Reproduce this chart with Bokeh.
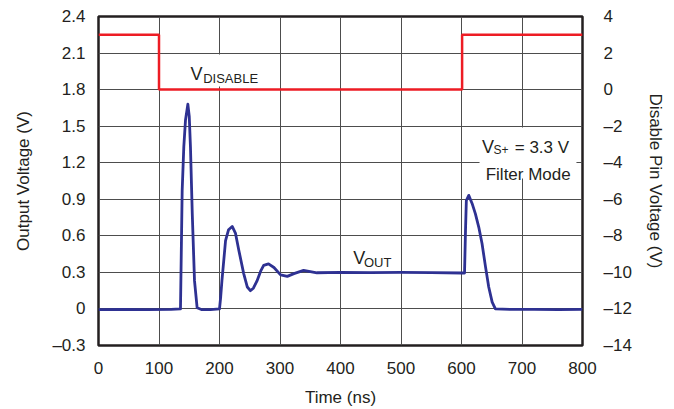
from bokeh.plotting import figure
from bokeh.models import LinearAxis, Range1d, FixedTicker, Label, BoxAnnotation
from bokeh.embed import file_html
from bokeh.resources import INLINE

# ---- data ----
x_ticks = [0, 100, 200, 300, 400, 500, 600, 700, 800]
y_left_ticks = [-0.3, 0, 0.3, 0.6, 0.9, 1.2, 1.5, 1.8, 2.1, 2.4]
y_left_labels = ["–0.3", "0", "0.3", "0.6", "0.9", "1.2", "1.5", "1.8", "2.1", "2.4"]
y_right_ticks = [-14, -12, -10, -8, -6, -4, -2, 0, 2, 4]
y_right_labels = ["–14", "–12", "–10", "–8", "–6", "–4", "–2", "0", "2", "4"]

t_out = [0, 40, 80, 120, 135.5, 138.3, 141, 143.8, 147.7, 150, 152, 155, 158.7, 163,
         170, 185, 200, 202, 204, 210, 215, 221, 226.5, 232, 240, 246, 251, 256, 262,
         268, 273, 281, 290, 301, 312, 323, 339, 361, 400, 450, 500, 550, 600, 605,
         606.6, 608, 612, 617.5, 623, 628.6, 634, 639.7, 645, 650.7, 656, 680, 720,
         760, 800]
v_out = [-0.005, -0.003, -0.006, -0.004, 0.0, 0.97, 1.33, 1.55, 1.68, 1.58, 1.33, 0.78,
         0.23, 0.01, -0.005, -0.005, 0.0, 0.1, 0.23, 0.56, 0.65, 0.677, 0.62, 0.48, 0.29,
         0.18, 0.15, 0.17, 0.23, 0.31, 0.357, 0.37, 0.34, 0.28, 0.267, 0.29, 0.316, 0.297,
         0.30, 0.298, 0.30, 0.298, 0.295, 0.295, 0.64, 0.89, 0.932, 0.866, 0.78, 0.67,
         0.535, 0.345, 0.18, 0.056, 0.0, -0.004, -0.003, -0.005, -0.003]

t_dis = [0, 100, 100, 601, 601, 800]
v_dis = [3.0, 3.0, 0.0, 0.0, 3.0, 3.0]

FONT = "Liberation Sans"
TXT = "#231F20"
BLUE = "#2E3192"
RED = "#ED1C24"

p = figure(width=674, height=409, x_range=Range1d(0, 800), y_range=Range1d(-0.3, 2.4),
           output_backend="svg", toolbar_location=None,
           min_border_left=98, min_border_right=92, min_border_top=16, min_border_bottom=64)
p.extra_y_ranges = {"dis": Range1d(-14, 4)}

p.outline_line_color = TXT
p.outline_line_width = 2.5
p.outline_line_alpha = 1.0

p.xaxis.ticker = FixedTicker(ticks=x_ticks)
p.yaxis.ticker = FixedTicker(ticks=y_left_ticks)
p.yaxis.major_label_overrides = {t: l for t, l in zip(y_left_ticks, y_left_labels)}

raxis = LinearAxis(y_range_name="dis", ticker=FixedTicker(ticks=y_right_ticks),
                   axis_label="Disable Pin Voltage (V)")
raxis.major_label_overrides = {t: l for t, l in zip(y_right_ticks, y_right_labels)}
p.add_layout(raxis, "right")

p.xaxis.axis_label = "Time (ns)"
p.yaxis[0].axis_label = "Output Voltage (V)"

for ax in [p.xaxis[0], p.yaxis[0], raxis]:
    ax.axis_line_color = None
    ax.major_tick_line_color = None
    ax.minor_tick_line_color = None
    ax.major_tick_out = 0
    ax.major_tick_in = 0
    ax.major_label_text_font = FONT
    ax.major_label_text_font_size = "17px"
    ax.major_label_text_color = TXT
    ax.axis_label_text_font = FONT
    ax.axis_label_text_font_size = "17px"
    ax.axis_label_text_font_style = "normal"
    ax.axis_label_text_color = TXT

p.xaxis.major_label_standoff = 16
p.xaxis.axis_label_standoff = 11
p.yaxis[0].major_label_standoff = 13
p.yaxis[0].axis_label_standoff = 16
raxis.major_label_standoff = 21
raxis.axis_label_standoff = 11

p.xgrid.ticker = FixedTicker(ticks=x_ticks)
p.ygrid.ticker = FixedTicker(ticks=y_left_ticks)
for g in [p.xgrid[0], p.ygrid[0]]:
    g.grid_line_color = "#4d4d4d"
    g.grid_line_width = 1
    g.grid_line_alpha = 1.0

p.line(t_dis, v_dis, y_range_name="dis", line_color=RED, line_width=2.5)
p.line(t_out, v_out, line_color=BLUE, line_width=2.8, line_join="round")

# white boxes behind annotation text
p.add_layout(BoxAnnotation(left=143.8, right=271, top=2.088, bottom=1.826,
                           fill_color="white", fill_alpha=1.0, line_color=None))
p.add_layout(BoxAnnotation(left=629.8, right=790, top=1.489, bottom=1.070,
                           fill_color="white", fill_alpha=1.0, line_color=None))

def lab(x, y, text, size):
    p.add_layout(Label(x=x, y=y, text=text, text_font=FONT, text_font_size=size,
                       text_color=TXT, text_baseline="alphabetic", text_align="left"))

lab(152, 1.93, "V", "18px")
lab(173, 1.889, "DISABLE", "13px")
lab(421, 0.422, "V", "18px")
lab(438.8, 0.384, "OUT", "13px")
lab(634, 1.327, "V", "18px")
lab(653, 1.306, "S+", "12px")
lab(688, 1.327, "= 3.3 V", "17px")
lab(640, 1.105, "Filter Mode", "17px")

open("out.html", "w").write(file_html(p, INLINE))
